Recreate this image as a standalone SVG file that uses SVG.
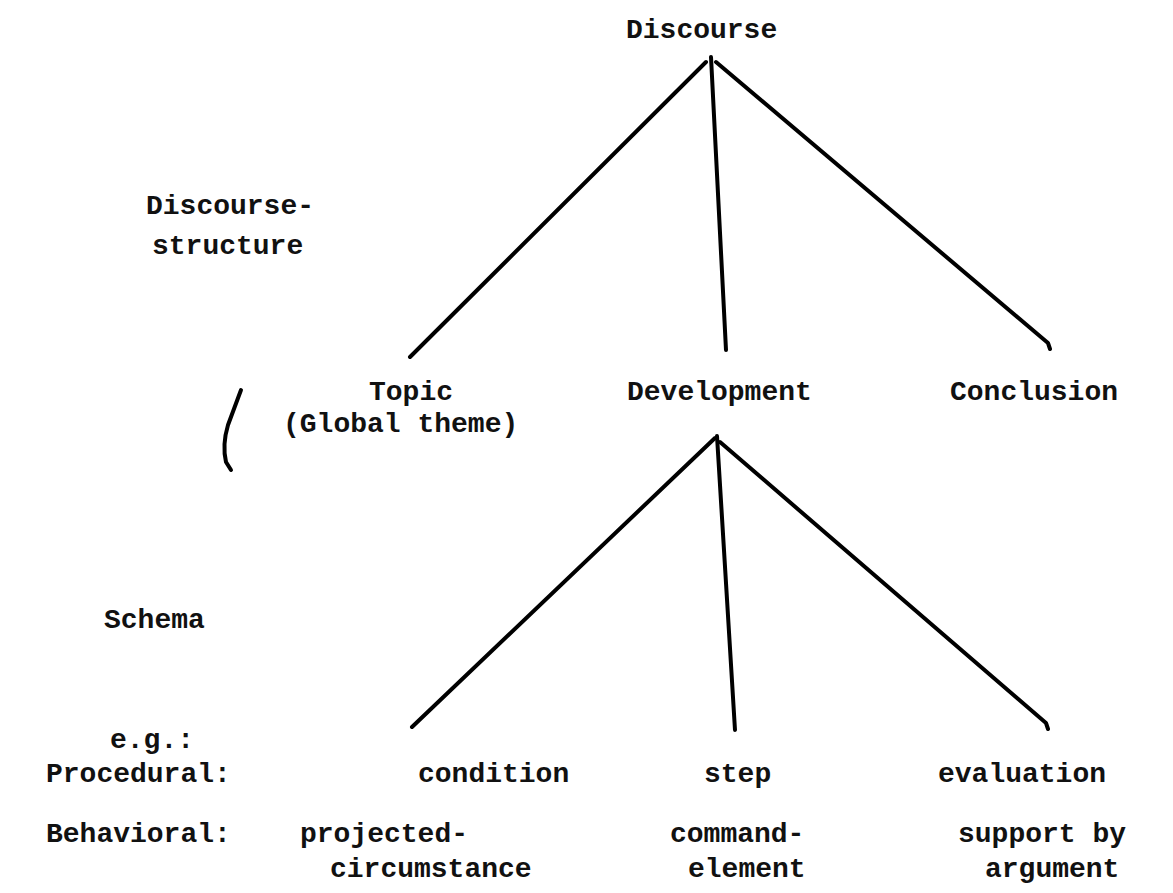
<svg xmlns="http://www.w3.org/2000/svg" width="1173" height="893" viewBox="0 0 1173 893">
<style>
  .t { font-family: "Liberation Mono", "DejaVu Sans Mono", monospace; font-size: 28px; font-weight: bold; fill: #111; }
  .e { stroke: #000; stroke-width: 4; fill: none; stroke-linecap: round; stroke-linejoin: round; }
</style>
<rect width="1173" height="893" fill="#fff"/>
<g id="connectors">
  <path class="e" d="M706,62 L410,357"/>
  <path class="e" d="M711,57 L726,350"/>
  <path class="e" d="M716,62 L1048,343 L1050,349"/>
  <path class="e" d="M715,438 L412,727"/>
  <path class="e" d="M717,436 L735,730"/>
  <path class="e" d="M720,442 L1046,723 L1048,729"/>
  <path class="e" d="M241,390 L228,425 Q222,445 226,462 L231,470" stroke-width="3"/>
</g>
<g id="discourse"><text class="t" x="626" y="38">Discourse</text></g>
<g id="label-discourse-structure">
  <text class="t" x="146" y="214">Discourse-</text>
  <text class="t" x="152" y="254">structure</text>
</g>
<g id="topic">
  <text class="t" x="369" y="400">Topic</text>
  <text class="t" x="283" y="432">(Global theme)</text>
</g>
<g id="development"><text class="t" x="627" y="400">Development</text></g>
<g id="conclusion"><text class="t" x="950" y="400">Conclusion</text></g>
<g id="label-schema"><text class="t" x="104" y="628">Schema</text></g>
<g id="label-eg"><text class="t" x="110" y="748">e.g.:</text></g>
<g id="label-procedural"><text class="t" x="46" y="782">Procedural:</text></g>
<g id="label-behavioral"><text class="t" x="46" y="842">Behavioral:</text></g>
<g id="condition"><text class="t" x="418" y="782">condition</text></g>
<g id="step"><text class="t" x="704" y="782">step</text></g>
<g id="evaluation"><text class="t" x="938" y="782">evaluation</text></g>
<g id="projected-circumstance">
  <text class="t" x="300" y="842">projected-</text>
  <text class="t" x="330" y="877">circumstance</text>
</g>
<g id="command-element">
  <text class="t" x="670" y="842">command-</text>
  <text class="t" x="688" y="877">element</text>
</g>
<g id="support-by-argument">
  <text class="t" x="958" y="842">support by</text>
  <text class="t" x="985" y="877">argument</text>
</g>
</svg>
